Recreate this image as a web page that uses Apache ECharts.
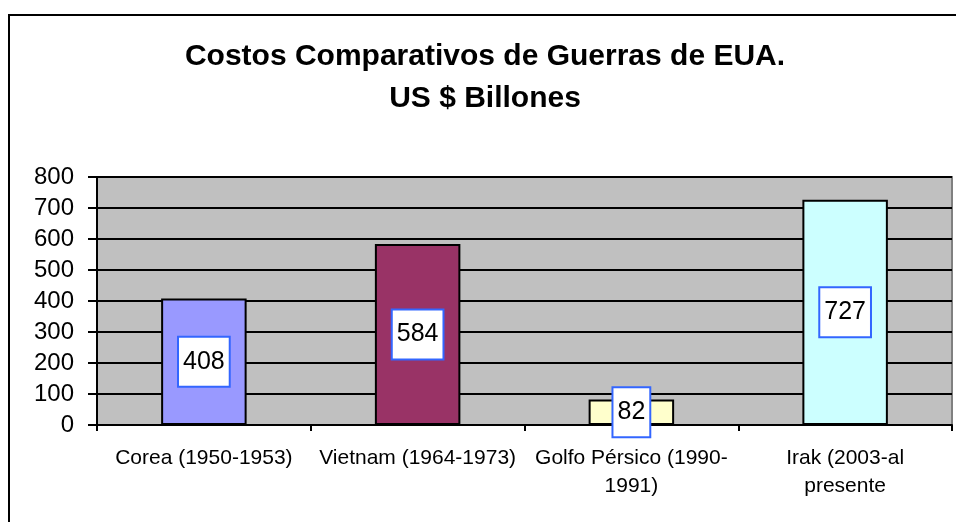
<!DOCTYPE html>
<html>
<head>
<meta charset="utf-8">
<script src="https://cdn.jsdelivr.net/npm/echarts@6/dist/echarts.min.js"></script>
<style>
  html, body { margin: 0; padding: 0; background: #fff; }
  #chart { width: 956px; height: 522px; }
</style>
</head>
<body>
<div id="chart"></div>
<script>
// datos
const categorias = ['Corea (1950-1953)', 'Vietnam (1964-1973)', 'Golfo Pérsico (1990-\n1991)', 'Irak (2003-al\npresente']
const costos = [408, 584, 82, 727]
const colores = ['#9999ff', '#993366', '#ffffcc', '#ccffff']
const yTicks = [0, 100, 200, 300, 400, 500, 600, 700, 800]

const Chart = echarts.init(document.getElementById('chart'))
const font = 'Arial, "Liberation Sans", sans-serif'

Chart.setOption({
  animation: false,
  textStyle: { fontFamily: font },
  title: {
    text: 'Costos Comparativos de Guerras de EUA.\nUS $ Billones',
    left: 480,
    top: 31,
    textAlign: 'center',
    textStyle: {
      fontFamily: font,
      fontSize: 30,
      fontWeight: 'bold',
      color: '#000',
      lineHeight: 42
    }
  },
  graphic: [{
    type: 'rect',
    shape: { x: 9, y: 15, width: 980, height: 560 },
    style: { fill: 'none', stroke: '#000', lineWidth: 2 },
    silent: true,
    z: -1
  }],
  grid: {
    left: 97,
    right: 4,
    top: 177,
    bottom: 97,
    show: true,
    backgroundColor: '#c0c0c0',
    borderColor: '#808080',
    borderWidth: 2
  },
  xAxis: {
    type: 'category',
    data: categorias,
    axisLine: { lineStyle: { color: '#000', width: 2 } },
    axisTick: { show: true, length: 6, lineStyle: { color: '#000', width: 2 } },
    axisLabel: {
      color: '#000',
      fontSize: 21,
      lineHeight: 28,
      margin: 19,
      interval: 0
    }
  },
  yAxis: {
    type: 'value',
    min: yTicks[0],
    max: yTicks[yTicks.length - 1],
    interval: 100,
    axisLine: { show: true, lineStyle: { color: '#000', width: 2 } },
    axisTick: { show: true, length: 9, lineStyle: { color: '#000', width: 2 } },
    axisLabel: { color: '#000', fontSize: 24, margin: 23 },
    splitLine: { lineStyle: { color: '#000', width: 2 } }
  },
  series: [{
    type: 'bar',
    data: costos.map((v, i) => ({
      value: v,
      itemStyle: { color: colores[i] }
    })),
    barWidth: '40%',
    itemStyle: { borderColor: '#000', borderWidth: 2 },
    label: {
      show: true,
      position: 'inside',
      color: '#000',
      fontSize: 25,
      backgroundColor: '#fff',
      borderColor: '#3366ff',
      borderWidth: 2,
      padding: [12, 4, 11, 4]
    }
  }]
})
</script>
</body>
</html>
